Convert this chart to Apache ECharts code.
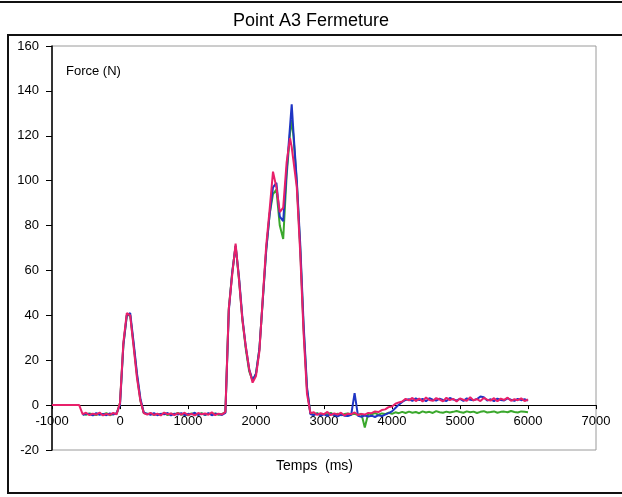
<!DOCTYPE html>
<html>
<head>
<meta charset="utf-8">
<title>Point A3 Fermeture</title>
<script src="https://cdn.jsdelivr.net/npm/echarts@6/dist/echarts.min.js"></script>
<style>
  html, body { margin: 0; padding: 0; background: #ffffff; }
  #chart { width: 622px; height: 497px; }
</style>
</head>
<body>
<div id="chart"></div>
<script>
// Temps (ms) shared by the three force traces
const temps = [
  -1000, -950, -900, -850, -800, -750, -700, -650, -600,
  -550, -500, -450, -400, -350, -300, -250, -200, -150, -100, -50,
  0, 50, 100, 150, 200, 250, 300, 350,
  400, 450, 500, 550, 600, 650, 700, 750, 800, 850, 900, 950, 1000, 1050, 1100, 1150,
  1200, 1250, 1300, 1350, 1400, 1450, 1500,
  1550, 1600, 1650, 1700, 1750, 1800, 1850, 1900, 1950, 2000, 2050, 2100, 2150, 2200,
  2250, 2300, 2350, 2400, 2450,
  2500, 2525, 2550, 2600, 2650, 2700, 2750, 2800,
  2850, 2900, 2950, 3000, 3050, 3100, 3150, 3200, 3250, 3300, 3350, 3400, 3450, 3500,
  3550, 3600, 3650, 3700, 3750, 3800, 3850, 3900, 3950, 4000, 4050, 4100, 4150, 4200,
  4250, 4300, 4350, 4400, 4450, 4500, 4550, 4600, 4650, 4700, 4750, 4800, 4850, 4900,
  4950, 5000, 5050, 5100, 5150, 5200, 5250, 5300, 5350, 5400, 5450, 5500, 5550, 5600,
  5650, 5700, 5750, 5800, 5850, 5900, 5950, 6000
];

// Force (N), trace 1 (green)
const forceVert = [
  null, null, null, null, null, null, null, null, null,
  -3.9, -4.3, -3.7, -4.1, -4.4, -3.8, -4.2, -3.6, -4.5, -3.9, -4.0,
  1, 27, 40, 40, 27, 13, 2, -3.5,
  -4.0, -3.7, -4.4, -3.9, -4.2, -3.6, -4.5, -3.8, -4.1, -3.5, -4.3, -3.9, -4.6, -3.7, -4.0, -4.2,
  -3.6, -4.4, -3.8, -4.1, -3.7, -4.3, -3.9,
  -3.2, 43, 59, 71, 56, 38, 25, 15, 11, 14, 25, 47, 69, 85,
  94, 96, 80, 74, 102,
  121, 127, 120, 99, 70, 34, 7, -3.8,
  -4.2, -3.6, -4.4, -3.9, -4.1, -3.5, -4.3, -3.8, -4.5, -4.0, -3.7, -4.2, -3.9, -4.4,
  -3.8, -10, -3.8, -4.1, -3.5, -4.3, -3.7, -4.0, -3.4, -3.9, -3.2, -3.6, -3.0, -3.5,
  -2.9, -3.4, -3.1, -3.6, -2.8, -3.3, -3.0, -3.5, -2.7, -3.2, -3.4, -2.9, -3.3, -3.0,
  -2.6, -3.1, -3.4, -2.8, -3.2, -2.9, -3.5, -3.0, -2.7, -3.3, -3.1, -2.8, -3.4, -3.0,
  -2.9, -3.2, -2.6, -3.1, -3.3, -2.8, -3.0, -3.2
];

// Force (N), trace 2 (blue)
const forceBleu = [
  null, null, null, null, null, null, null, null, null,
  -4.4, -3.8, -4.0, -4.6, -3.6, -4.3, -3.9, -4.5, -3.7, -4.2, -3.6,
  0, 27, 40, 41, 28, 14, 3, -3.4,
  -3.8, -4.3, -3.6, -4.5, -3.9, -4.1, -3.5, -4.6, -3.8, -4.2, -3.6, -4.5, -3.9, -4.1, -3.4, -4.4,
  -3.8, -4.3, -3.6, -4.5, -3.9, -4.0, -4.4,
  -3.5, 42, 59, 71, 57, 39, 26, 16, 11, 14, 25, 47, 69, 85,
  97, 99, 84, 82, 104,
  124, 134, 122, 100, 72, 36, 8, -4,
  -4.5, -3.8, -4.6, -4.1, -4.8, -3.9, -4.4, -5.0, -4.2, -4.7, -4.9, -4.3, 5.3, -4.8,
  -5.2, -4.6, -5.1, -4.7, -5.3, -4.5, -4.9, -4.2, -3.6, -2.8, -1.3, 0.2, 1.4, 2.3,
  2.6, 1.9, 3.0, 2.2, 2.8, 1.7, 3.1, 2.4, 2.0, 2.9, 2.3, 1.8, 3.2, 2.5,
  2.1, 2.8, 1.9, 3.0, 2.4, 2.2, 2.7, 3.8, 3.5, 2.0, 2.6, 1.8, 2.9, 2.3,
  2.1, 3.0, 2.4, 1.9, 2.8, 2.2, 2.6, 2.0
];

// Force (N), trace 3 (red)
const forceRouge = [
  0, 0, 0, 0, 0, 0, 0, 0, 0,
  -4.0, -3.4, -4.5, -3.8, -4.2, -3.3, -4.6, -3.9, -4.3, -3.5, -4.1,
  1, 28, 41, 40, 26, 12, 2, -3.6,
  -4.2, -3.5, -4.4, -3.8, -4.6, -3.3, -4.1, -3.7, -4.5, -3.6, -4.2, -3.4, -4.4, -3.9, -4.6, -3.5,
  -4.1, -3.7, -4.3, -3.2, -4.5, -3.8, -4.2,
  -3, 43, 58, 72, 56, 38, 26, 16, 10, 13, 24, 48, 71, 87,
  104, 97, 86, 88, 108,
  119, 115, 109, 97, 68, 32, 5, -3.6,
  -3.2, -4.4, -3.6, -4.1, -3.0, -4.5, -3.7, -4.2, -3.4, -4.6, -3.8, -4.0, -3.3, -4.4,
  -3.9, -4.2, -3.5, -3.6, -2.8, -3.1, -2.2, -1.9, -0.9, -0.6, 0.6, 1.2, 1.6, 2.8,
  2.1, 3.2, 1.8, 2.9, 1.6, 3.4, 2.3, 1.9, 3.1, 2.5, 1.7, 3.3, 2.2, 2.8,
  1.6, 3.0, 2.4, 1.9, 3.5, 2.1, 2.7, 1.8, 3.2, 2.4, 2.0, 3.1, 1.7, 2.9,
  2.3, 3.3, 1.9, 2.6, 2.2, 3.0, 1.8, 2.5
];

const xTicks = { min: -1000, max: 7000, step: 1000 };
const yTicks = { min: -20, max: 160, step: 20 };

const GRID = { left: 52, right: 26, top: 46, bottom: 47 };
const FONT = '"Liberation Sans", Arial, sans-serif';

function pairs(values) {
  const out = [];
  temps.forEach((t, i) => {
    if (values[i] !== null && values[i] !== undefined) out.push([t, values[i]]);
  });
  return out;
}

// The time axis crosses the force axis at 0 N: shift it up from the plot bottom
const plotHeight = 497 - GRID.top - GRID.bottom;
const zeroOffset = -plotHeight * (0 - yTicks.min) / (yTicks.max - yTicks.min);

const chart = echarts.init(document.getElementById('chart'), null, { renderer: 'canvas' });

chart.setOption({
  animation: false,
  backgroundColor: '#ffffff',
  title: {
    text: 'Point A3 Fermeture',
    left: 306,
    textAlign: 'center',
    top: 7,
    textStyle: { fontFamily: FONT, fontSize: 18, fontWeight: 'normal', color: '#000' }
  },
  grid: {
    left: GRID.left, right: GRID.right, top: GRID.top, bottom: GRID.bottom,
    show: true, borderColor: '#9a9a9a', borderWidth: 1, backgroundColor: '#ffffff'
  },
  xAxis: {
    type: 'value',
    min: xTicks.min, max: xTicks.max, interval: xTicks.step,
    offset: zeroOffset,
    axisLine: { show: true, onZero: false, lineStyle: { color: '#000', width: 1 } },
    axisTick: { show: true, length: 4, lineStyle: { color: '#000' } },
    axisLabel: {
      margin: 10, fontFamily: FONT, fontSize: 13, color: '#000',
      showMinLabel: true, showMaxLabel: true,
      formatter: v => String(v)
    },
    splitLine: { show: false }
  },
  yAxis: {
    type: 'value',
    min: yTicks.min, max: yTicks.max, interval: yTicks.step,
    axisLine: { show: true, onZero: false, lineStyle: { color: '#000', width: 1.5 } },
    axisTick: { show: true, length: 6, lineStyle: { color: '#000' } },
    axisLabel: { margin: 13, fontFamily: FONT, fontSize: 13, color: '#000' },
    splitLine: { show: false }
  },
  graphic: [
    { type: 'line', shape: { x1: 0, y1: 2, x2: 622, y2: 2 }, style: { stroke: '#111', lineWidth: 2 } },
    { type: 'rect', shape: { x: 8, y: 35, width: 640, height: 458 }, style: { fill: null, stroke: '#111', lineWidth: 2 }, z: -1 },
    { type: 'text', left: 66, top: 65, style: { text: 'Force (N)', font: '13px ' + FONT, fill: '#000' } },
    { type: 'text', left: 276, top: 459, style: { text: 'Temps  (ms)', font: '14px ' + FONT, fill: '#000' } }
  ],
  series: [
    { name: 'vert', type: 'line', data: pairs(forceVert), showSymbol: false, lineStyle: { color: '#3aa82c', width: 2 }, z: 2 },
    { name: 'bleu', type: 'line', data: pairs(forceBleu), showSymbol: false, lineStyle: { color: '#1f35c4', width: 2 }, z: 3 },
    { name: 'rouge', type: 'line', data: pairs(forceRouge), showSymbol: false, lineStyle: { color: '#e8206a', width: 2 }, z: 4 }
  ]
});
</script>
</body>
</html>
